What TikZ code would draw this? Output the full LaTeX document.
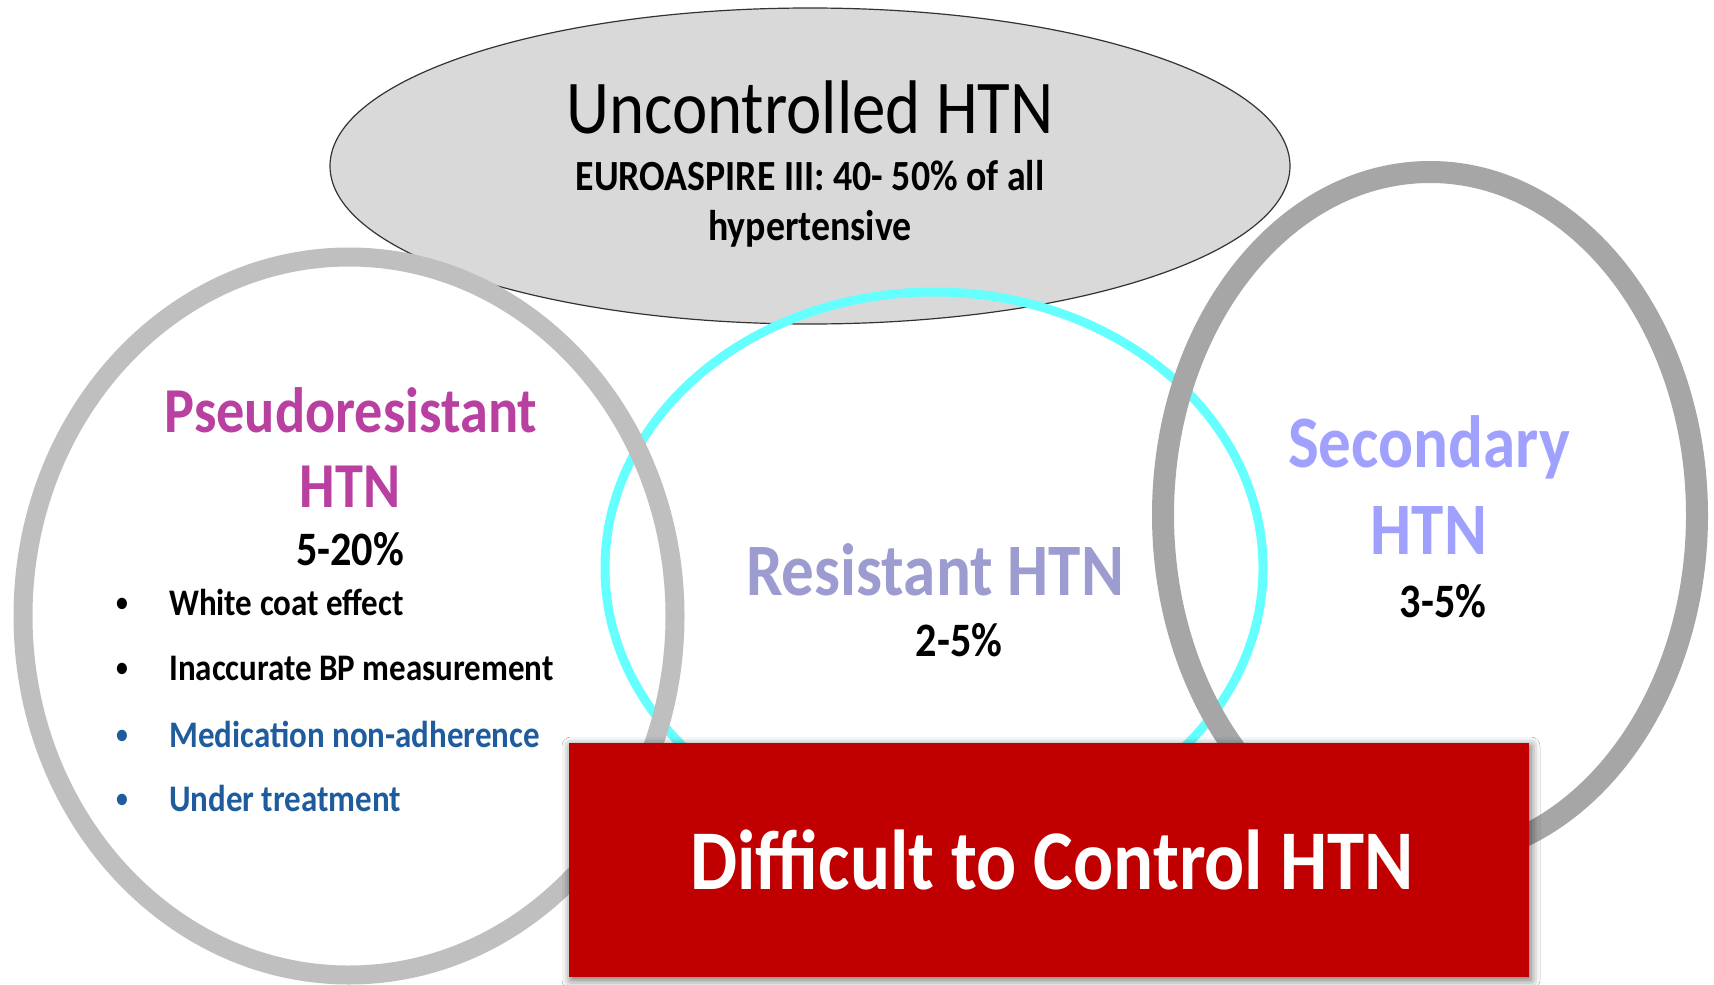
\documentclass[tikz,border=0pt]{standalone}
\usepackage{fontspec}
\setmainfont{Carlito}[FakeStretch=0.88]
\usetikzlibrary{shadows.blur}
\definecolor{ellfill}{HTML}{D9D9D9}
\definecolor{ringL}{HTML}{BFBFBF}
\definecolor{ringR}{HTML}{A6A6A6}
\definecolor{cyanring}{HTML}{66FFFF}
\definecolor{boxred}{HTML}{C00000}
\definecolor{pseudo}{HTML}{B93FA0}
\definecolor{resist}{HTML}{9C9CD0}
\definecolor{second}{HTML}{A0A0FF}
\definecolor{bulblue}{HTML}{1F5C9E}
\begin{document}
\begin{tikzpicture}[x=1pt,y=-1pt,
  txt/.style={inner sep=0pt, anchor=base},
  lft/.style={inner sep=0pt, anchor=base west},
  bulletfont/.style={font=\fontsize{37.5}{45}\selectfont\bfseries},
  dotfont/.style={inner sep=0pt, anchor=base, font=\fontsize{27}{32}\selectfont\bfseries},
  pct/.style={txt, font=\fontsize{48}{58}\selectfont\bfseries}]
\useasboundingbox (0,0) rectangle (1714,985);
\fill[white] (0,0) rectangle (1714,985);
% top ellipse
\draw[fill=ellfill, draw=black!80, line width=1.2pt] (810,166) ellipse [x radius=480, y radius=158];
% resistant (cyan)
\draw[cyanring, line width=9pt] (934,568) ellipse [x radius=329, y radius=276];
% pseudoresistant ring
\draw[ringL, line width=19pt] (349,616) ellipse [x radius=326, y radius=359];
% secondary ring
\draw[ringR, line width=22pt] (1430,515) ellipse [x radius=267, y radius=343];
% red box
\node[fill=boxred, inner sep=0pt, minimum width=960pt, minimum height=234pt,
  blur shadow={shadow xshift=2pt, shadow yshift=-3pt, shadow blur radius=9pt, shadow opacity=60}]
  (dtcbox) at (1049,860) {};
\node[txt, white, font=\fontsize{85}{100}\selectfont\bfseries] (dtc) at (1052,889) {Difficult to Control HTN};
% top texts
\node[txt, font=\fontsize{76}{90}\selectfont] (unc) at (810,133) {Uncontrolled HTN};
\node[txt, font=\fontsize{43}{50}\selectfont\bfseries] (euro) at (810,190) {EUROASPIRE III: 40- 50\% of all};
\node[txt, font=\fontsize{43}{50}\selectfont\bfseries] (hyp) at (810,240) {hypertensive};
% pseudoresistant
\node[txt, pseudo, font=\fontsize{64}{75}\selectfont\bfseries] (ps1) at (351,432) {Pseudoresistant};
\node[txt, pseudo, font=\fontsize{64}{75}\selectfont\bfseries] (ps2) at (350,507) {HTN};
\node[pct] (ps3) at (350,565) {5-20\%};
\node[dotfont] (b1) at (122,611) {•};
\node[lft, bulletfont] (t1) at (169,615) {White coat effect};
\node[dotfont] (b2) at (122,676) {•};
\node[lft, bulletfont] (t2) at (169,680) {Inaccurate BP measurement};
\node[dotfont, bulblue] (b3) at (122,743) {•};
\node[lft, bulletfont, bulblue] (t3) at (169,747) {Medication non-adherence};
\node[dotfont, bulblue] (b4) at (122,807) {•};
\node[lft, bulletfont, bulblue] (t4) at (169,811) {Under treatment};
% resistant
\node[txt, resist, font=\fontsize{74}{88}\selectfont\bfseries] (rs1) at (935,595) {Resistant HTN};
\node[pct] (rs2) at (959,656) {2-5\%};
% secondary
\node[txt, second, font=\fontsize{74}{88}\selectfont\bfseries] (sc1) at (1429,467) {Secondary};
\node[txt, second, font=\fontsize{74}{88}\selectfont\bfseries] (sc2) at (1429,554) {HTN};
\node[pct] (sc3) at (1443,617) {3-5\%};
\end{tikzpicture}
\end{document}
